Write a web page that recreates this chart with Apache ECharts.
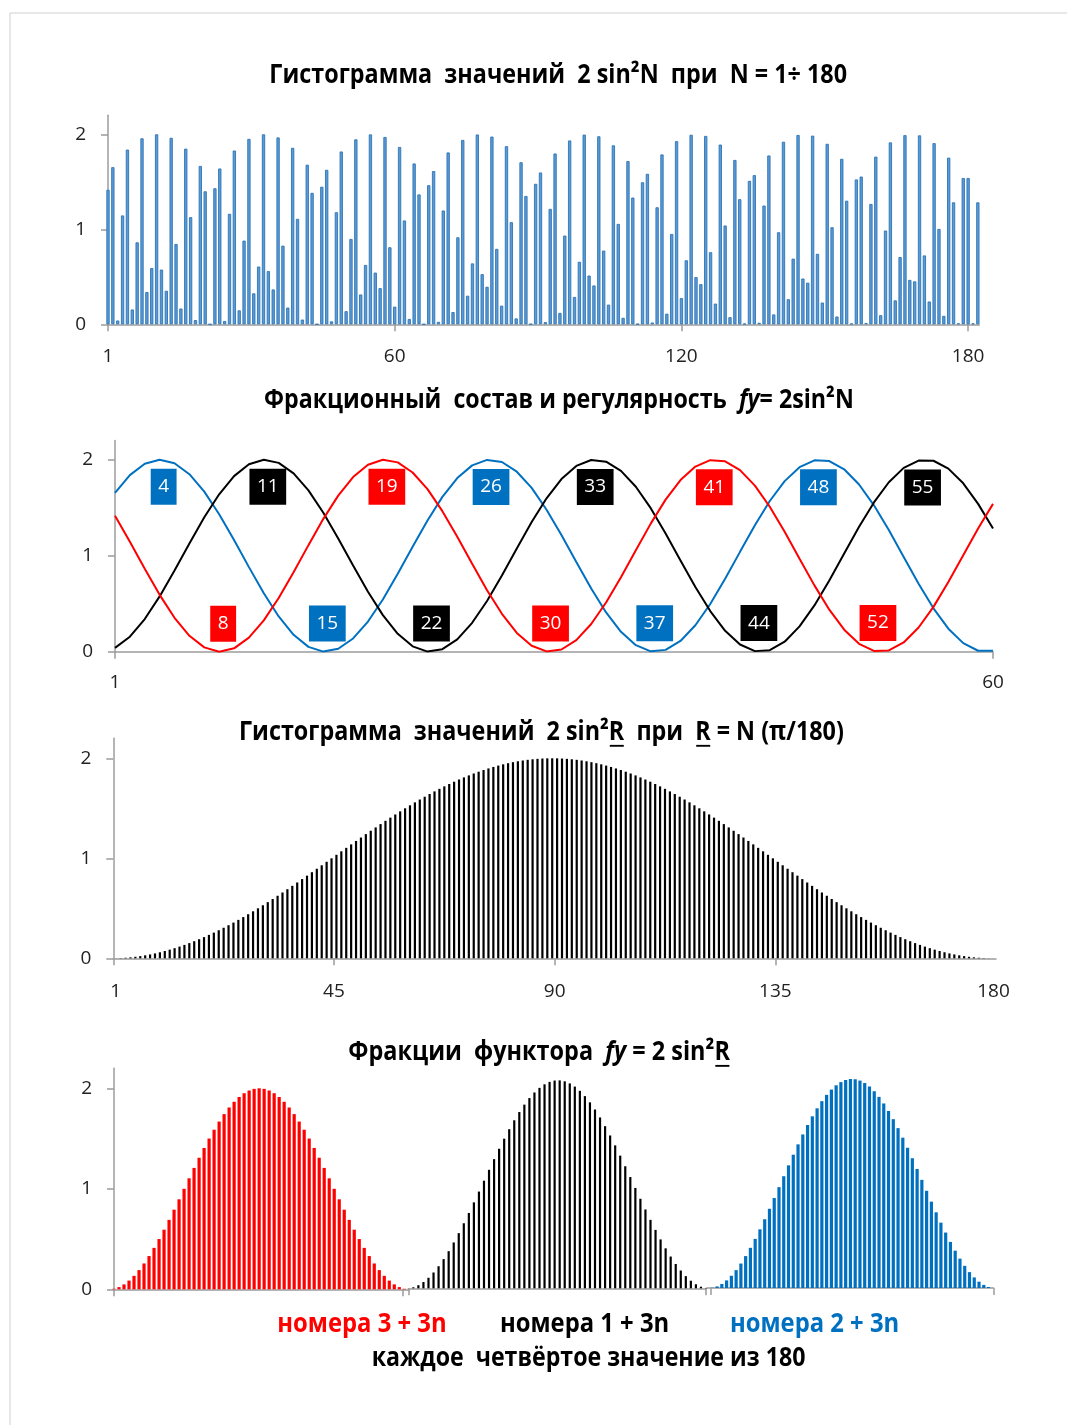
<!DOCTYPE html>
<html><head><meta charset="utf-8">
<script src="https://cdn.jsdelivr.net/npm/echarts@6.0.0/dist/echarts.min.js"></script>
<style>html,body{margin:0;padding:0;background:#fff}#c{width:1067px;height:1425px}</style>
</head><body><div id="c"></div>
<script>
// 2 sin^2 N, N = 1..180 (N in radians)
const sinSqRad = [
1.416,1.654,0.040,1.146,1.839,0.156,0.863,1.958,0.340,0.592,2.000,0.576,0.353,1.963,0.846,0.166,1.849,1.128,0.045,1.667,1.400,0.000,
1.432,1.640,0.035,1.163,1.829,0.147,0.881,1.952,0.326,0.608,2.000,0.560,0.367,1.967,0.828,0.176,1.858,1.110,0.050,1.680,1.384,0.001,
1.448,1.626,0.031,1.180,1.819,0.138,0.898,1.947,0.314,0.625,1.999,0.544,0.381,1.972,0.811,0.186,1.867,1.093,0.056,1.693,1.367,0.001,
1.464,1.613,0.026,1.198,1.809,0.129,0.916,1.941,0.301,0.641,1.998,0.528,0.395,1.976,0.794,0.196,1.875,1.075,0.062,1.706,1.351,0.003,
1.479,1.598,0.023,1.215,1.798,0.120,0.934,1.935,0.288,0.658,1.997,0.513,0.409,1.979,0.776,0.207,1.884,1.057,0.068,1.718,1.334,0.004,
1.495,1.584,0.019,1.232,1.788,0.112,0.951,1.928,0.276,0.674,1.995,0.497,0.423,1.983,0.759,0.218,1.892,1.040,0.075,1.730,1.317,0.006,
1.510,1.570,0.016,1.250,1.777,0.104,0.969,1.922,0.264,0.691,1.993,0.482,0.438,1.986,0.742,0.229,1.900,1.022,0.082,1.742,1.301,0.008,
1.525,1.555,0.013,1.267,1.765,0.096,0.987,1.915,0.252,0.708,1.991,0.467,0.452,1.989,0.725,0.240,1.907,1.004,0.089,1.754,1.284,0.010,
1.540,1.540,0.010,1.284
];
// 2 sin^2 R, R = N*pi/180, N = 1..180
const sinSqDeg = [
0.0006,0.0024,0.0055,0.0097,0.0152,0.0219,0.0297,0.0387,0.0489,0.0603,0.0728,0.0865,0.1012,0.1171,0.1340,0.1520,0.1710,0.1910,0.2120,0.2340,0.2569,0.2807,0.3053,0.3309,0.3572,0.3843,0.4122,0.4408,0.4701,0.5000,0.5305,0.5616,0.5933,0.6254,0.6580,0.6910,0.7244,0.7581,0.7921,0.8264,0.8608,0.8955,0.9302,0.9651,1.0000,
1.0349,1.0698,1.1045,1.1392,1.1736,1.2079,1.2419,1.2756,1.3090,1.3420,1.3746,1.4067,1.4384,1.4695,1.5000,1.5299,1.5592,1.5878,1.6157,1.6428,1.6691,1.6947,1.7193,1.7431,1.7660,1.7880,1.8090,1.8290,1.8480,1.8660,1.8829,1.8988,1.9135,1.9272,1.9397,1.9511,1.9613,1.9703,1.9781,1.9848,1.9903,1.9945,1.9976,1.9994,2.0000,
1.9994,1.9976,1.9945,1.9903,1.9848,1.9781,1.9703,1.9613,1.9511,1.9397,1.9272,1.9135,1.8988,1.8829,1.8660,1.8480,1.8290,1.8090,1.7880,1.7660,1.7431,1.7193,1.6947,1.6691,1.6428,1.6157,1.5878,1.5592,1.5299,1.5000,1.4695,1.4384,1.4067,1.3746,1.3420,1.3090,1.2756,1.2419,1.2079,1.1736,1.1392,1.1045,1.0698,1.0349,1.0000,
0.9651,0.9302,0.8955,0.8608,0.8264,0.7921,0.7581,0.7244,0.6910,0.6580,0.6254,0.5933,0.5616,0.5305,0.5000,0.4701,0.4408,0.4122,0.3843,0.3572,0.3309,0.3053,0.2807,0.2569,0.2340,0.2120,0.1910,0.1710,0.1520,0.1340,0.1171,0.1012,0.0865,0.0728,0.0603,0.0489,0.0387,0.0297,0.0219,0.0152,0.0097,0.0055,0.0024,0.0006,0.0000
];
const yTickValues = [0, 1, 2];
const p1XTickValues = [1, 60, 119, 178];
const p1XLabelText = ['1', '60', '120', '180'];
const p2XTickValues = [1, 60];
const p2XLabelText = ['1', '60'];
const p3XTickValues = [0.5, 45.5, 90.5, 135.5];
const p3XLabelValues = [1, 45.5, 90.5, 135.5, 180];
const p3XLabelText = ['1', '45', '90', '135', '180'];
const labelsBlueTop = [4, 26, 48], labelsBlueBottom = [15, 37];
const labelsBlackTop = [11, 33, 55], labelsBlackBottom = [22, 44];
const labelsRedTop = [19, 41], labelsRedBottom = [8, 30, 52];
const titleTexts = [
  [{t:'Гистограмма  значений  2 sin²N  при  N = 1÷ 180'}],
  [{t:'Фракционный  состав и регулярность  '},{t:'fy',i:1},{t:'= 2sin²N'}],
  [{t:'Гистограмма  значений  2 sin²'},{t:'R',u:1},{t:'  при  '},{t:'R',u:1},{t:' = N (π/180)'}],
  [{t:'Фракции  функтора  '},{t:'fy',i:1},{t:' = 2 sin²'},{t:'R',u:1}]
];
const legendTexts = ['номера 3 + 3n', 'номера 1 + 3n', 'номера 2 + 3n', 'каждое  четвёртое значение из 180'];

const FONT = '"Open Sans", "Noto Sans", sans-serif';
const AXIS = '#9C9C9C', LBL = '#222222';
const BLUE = '#0070C0', RED = '#FF0000', BLACK = '#000000';

// derived tables
const kIdx = Array.from({length: 60}, (_, i) => i + 1);
const lineRed = kIdx.map(k => [k, sinSqRad[3*k-3]]);
const lineBlue = kIdx.map(k => [k, sinSqRad[3*k-2]]);
const lineBlack = kIdx.map(k => [k, sinSqRad[3*k-1]]);
const fracRed = kIdx.map(k => [k-1, sinSqDeg[3*k-1]]);
const fracBlack = kIdx.map(k => [k-1, sinSqDeg[3*k-3]]);
const fracBlue = kIdx.map(k => [k-1, sinSqDeg[3*k-2]]);

function yAx(grid, show) {
  return {type:'value', gridIndex:grid, min:0, max:2.2, show:show,
    axisLine:{show:true, lineStyle:{color:AXIS, width:1.5}},
    axisTick:{show:true, length:7, customValues:yTickValues, lineStyle:{color:AXIS, width:1.5}},
    axisLabel:{customValues:yTickValues, margin:22, fontSize:19, color:LBL, fontFamily:FONT},
    splitLine:{show:false}};
}
function xAx(grid, min, max, ticks, labVals, labText, margin) {
  return {type:'value', gridIndex:grid, min:min, max:max,
    axisLine:{show:true, onZero:false, lineStyle:{color:AXIS, width:1.5}},
    axisTick:{show:true, length:7, customValues:ticks, lineStyle:{color:AXIS, width:1.5}},
    axisLabel:{show: !!labVals, customValues: labVals || [], margin: margin || 20, fontSize:19, color:LBL, fontFamily:FONT,
      formatter: v => { const i = (labVals||[]).indexOf(v); return i >= 0 ? labText[i] : ''; }},
    splitLine:{show:false}};
}
function labelSeries(ks, arr, top, color) {
  return {type:'scatter', xAxisIndex:1, yAxisIndex:1, symbolSize:1, z:10,
    itemStyle:{color:'rgba(0,0,0,0)', opacity:1},
    emphasis:{disabled:true},
    label:{show:true, position:'inside', offset:[4, top ? 27 : -28], color:'#fff', backgroundColor:color, opacity:1,
      padding:[8.5, 7.5], fontSize:19, lineHeight:19, fontFamily:FONT, formatter: p => String(p.value[0])},
    data: ks.map(k => [k, arr[k-1][1]])};
}

// text layout helper (measure and fit to target span)
const mctx = document.createElement('canvas').getContext('2d');
const SY = 1.12;
function fontStr(seg, size) { return (seg.i ? 'italic ' : '') + 'bold ' + size + 'px ' + FONT; }
function textRow(segs, left, right, cy, color) {
  let w100 = 0;
  segs.forEach(s => { mctx.font = fontStr(s, 100); w100 += mctx.measureText(s.t).width; });
  const size = 100 * (right - left) / w100;
  const els = [];
  let x = left;
  segs.forEach(s => {
    mctx.font = fontStr(s, size);
    const w = mctx.measureText(s.t).width;
    els.push({type:'text', x:x, y:cy - 0.03*size, scaleY:SY, silent:true,
      style:{text:s.t, fill:s.c || color, fontSize:size, fontWeight:'bold', fontStyle:s.i ? 'italic' : 'normal',
        fontFamily:FONT, align:'left', verticalAlign:'middle'}});
    if (s.u) {
      const uy = cy + (0.36*size + 0.13*size) * SY;
      els.push({type:'line', silent:true, shape:{x1:x + 0.04*size, y1:uy, x2:x + w - 0.02*size, y2:uy},
        style:{stroke:color, lineWidth:Math.max(1.5, size*0.08)}});
    }
    x += w;
  });
  return els;
}

const graphic = [
  {type:'line', silent:true, shape:{x1:10, y1:13, x2:1067, y2:13}, style:{stroke:'#CFCFCF', lineWidth:1}},
  {type:'line', silent:true, shape:{x1:10, y1:13, x2:10, y2:1425}, style:{stroke:'#CFCFCF', lineWidth:1}}
]
.concat(textRow(titleTexts[0], 269.3, 847.3, 76.3, '#000'))
.concat(textRow(titleTexts[1], 264, 854.3, 401.3, '#000'))
.concat(textRow(titleTexts[2], 239, 844.3, 733, '#000'))
.concat(textRow(titleTexts[3], 348.3, 730, 1053, '#000'))
.concat(textRow([{t:legendTexts[0]}], 277.3, 446.7, 1325.3, RED))
.concat(textRow([{t:legendTexts[1]}], 500, 669.3, 1325.3, BLACK))
.concat(textRow([{t:legendTexts[2]}], 730, 899.3, 1325.3, BLUE))
.concat(textRow([{t:legendTexts[3]}], 371.7, 805.7, 1359.5, BLACK));

const option = {
  animation:false,
  backgroundColor:'#fff',
  textStyle:{fontFamily:FONT},
  grid:[
    {left:108, top:115.3, width:871.3, height:209},
    {left:115, top:440.5, width:878, height:211.2},
    {left:113.3, top:738.3, width:882.7, height:220},
    {left:114, top:1068.2, width:295.3, height:221.1},
    {left:408.3, top:1059.5, width:297.7, height:228.8},
    {left:706.6, top:1058.1, width:286.7, height:229.9}
  ],
  xAxis:[
    xAx(0, 1, 180.3, p1XTickValues, p1XTickValues, p1XLabelText, 23),
    xAx(1, 1, 60, p2XTickValues, p2XTickValues, p2XLabelText, 21),
    xAx(2, 0.5, 180.5, p3XTickValues, p3XLabelValues, p3XLabelText, 24),
    xAx(3, 0, 59, [0, 57.7], null, null),
    xAx(4, 0, 59, [0, 59], null, null),
    xAx(5, -1.2, 59, [-0.3, 59], null, null)
  ],
  yAxis:[yAx(0, true), yAx(1, true), yAx(2, true), yAx(3, true), yAx(4, false), yAx(5, false)],
  series:[
    {type:'bar', xAxisIndex:0, yAxisIndex:0, barWidth:3.3,
      itemStyle:{color:'#5B9BD5', borderColor:'#2E75B6', borderWidth:0.9},
      data: sinSqRad.map((v, i) => [i+1, v])},
    {type:'line', xAxisIndex:1, yAxisIndex:1, showSymbol:false, lineStyle:{color:BLUE, width:2}, itemStyle:{color:BLUE}, data:lineBlue},
    {type:'line', xAxisIndex:1, yAxisIndex:1, showSymbol:false, lineStyle:{color:BLACK, width:2}, itemStyle:{color:BLACK}, data:lineBlack},
    {type:'line', xAxisIndex:1, yAxisIndex:1, showSymbol:false, lineStyle:{color:RED, width:2}, itemStyle:{color:RED}, data:lineRed},
    labelSeries(labelsBlueTop, lineBlue, true, BLUE),
    labelSeries(labelsBlueBottom, lineBlue, false, BLUE),
    labelSeries(labelsBlackTop, lineBlack, true, BLACK),
    labelSeries(labelsBlackBottom, lineBlack, false, BLACK),
    labelSeries(labelsRedTop, lineRed, true, RED),
    labelSeries(labelsRedBottom, lineRed, false, RED),
    {type:'bar', xAxisIndex:2, yAxisIndex:2, barWidth:2.2, itemStyle:{color:'#000'},
      data: sinSqDeg.map((v, i) => [i+1, v])},
    {type:'bar', xAxisIndex:3, yAxisIndex:3, barWidth:3.2, itemStyle:{color:RED}, data:fracRed},
    {type:'bar', xAxisIndex:4, yAxisIndex:4, barWidth:2.2, itemStyle:{color:BLACK}, data:fracBlack},
    {type:'bar', xAxisIndex:5, yAxisIndex:5, barWidth:3.2, itemStyle:{color:BLUE}, data:fracBlue}
  ],
  graphic: graphic
};
const chart = echarts.init(document.getElementById('c'), null, {renderer:'canvas'});
chart.setOption(option);
</script>
</body></html>
